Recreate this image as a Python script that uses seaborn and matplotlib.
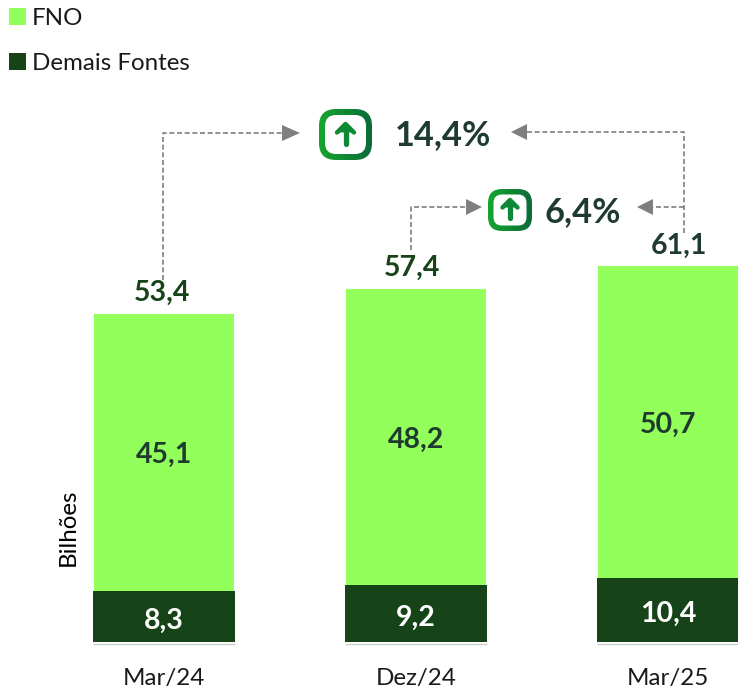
#!/usr/bin/env python3
"""Stacked bars FNO / Demais Fontes, with growth callouts on top."""

import numpy as np
import pandas as pd
import matplotlib.pyplot as plt
from matplotlib.patches import FancyBboxPatch, Polygon
from matplotlib.colors import LinearSegmentedColormap
import seaborn as sns

sns.set_theme(style="white")
plt.switch_backend('Agg')
plt.rcParams['font.family'] = ['Lato', 'DejaVu Sans']

# Data
PERIODS = ['Mar/24', 'Dez/24', 'Mar/25']
FNO = [45.1, 48.2, 50.7]
DEMAIS = [8.3, 9.2, 10.4]
TOTALS = [53.4, 57.4, 61.1]
FNO_LABELS = ['45,1', '48,2', '50,7']
DEMAIS_LABELS = ['8,3', '9,2', '10,4']
TOTAL_LABELS = ['53,4', '57,4', '61,1']
GROWTH_LABELS = ['14,4%', '6,4%']

LIGHT = '#92FF5A'
DARK = '#164317'
INK = '#1F3B2F'
GREY = '#7F7F7F'

W, H = 738, 692
PX_PER_UNIT = 6.15
BASE_PX = 642
LABEL_SIZE = 20.5
TEXT_SIZE = 17.4

df = pd.DataFrame({'periodo': PERIODS, 'fno': FNO, 'demais': DEMAIS})

fig = plt.figure(figsize=(W / 100, H / 100), dpi=100)
ax = fig.add_axes([0, (H - BASE_PX) / H, 1, BASE_PX / H])

sns.barplot(data=df, x='periodo', y='fno', bottom=df['demais'], color=LIGHT,
            saturation=1, width=0.556, label='FNO', linewidth=0, ax=ax)
sns.barplot(data=df, x='periodo', y='demais', color=DARK,
            saturation=1, width=0.563, label='Demais Fontes', linewidth=0, ax=ax)

# bar centres land on 164 / 416 / 668 px
ax.set_xlim(-164 / 252, (W - 164) / 252)
ax.set_ylim(0, BASE_PX / PX_PER_UNIT)
ax.set_xlabel('')
ax.set_ylabel('Bilhões', fontsize=TEXT_SIZE, color='black')
ax.yaxis.set_label_coords(79 / W, 0.178)
ax.set_yticks([])
ax.tick_params(axis='x', length=0, pad=19, labelsize=TEXT_SIZE, labelcolor='#1A1A1A')
sns.despine(ax=ax, left=True, bottom=True)

# thin rule under each bar
for i in range(len(PERIODS)):
    ax.hlines(-0.3, i - 0.283, i + 0.283, color='#C9D3CB', lw=1, clip_on=False)

# Value labels
for i in range(len(PERIODS)):
    ax.annotate(FNO_LABELS[i], (i, DEMAIS[i] + FNO[i] / 2), xytext=(0, -2),
                textcoords='offset points', ha='center', va='center',
                fontsize=LABEL_SIZE, fontweight='bold', color=INK)
    ax.annotate(DEMAIS_LABELS[i], (i, DEMAIS[i] / 2), xytext=(0, -3),
                textcoords='offset points', ha='center', va='center',
                fontsize=LABEL_SIZE, fontweight='bold', color='white')

total_dx = [-2, -4, 11]
total_colors = [DARK, DARK, INK]
for i in range(len(PERIODS)):
    ax.annotate(TOTAL_LABELS[i], (i, TOTALS[i]), xytext=(total_dx[i] * 0.72, 15),
                textcoords='offset points', ha='center', va='center',
                fontsize=LABEL_SIZE, fontweight='bold', color=total_colors[i])

leg = ax.legend(loc='upper left', bbox_to_anchor=(4 / W, 0.995), frameon=False,
                handlelength=0.7, handleheight=0.7, handletextpad=0.25,
                labelspacing=0.98, fontsize=TEXT_SIZE, borderaxespad=0, borderpad=0.2)
for text in leg.get_texts():
    text.set_color('#1A1A1A')

# Overlay in pixel space for the callouts
ov = fig.add_axes([0, 0, 1, 1], zorder=5)
ov.set_xlim(0, W)
ov.set_ylim(H, 0)
ov.axis('off')
ov.patch.set_alpha(0)


def dashed_path(xs, ys):
    ov.plot(xs, ys, color=GREY, lw=1.2, ls=(0, (3, 1.6)))


def head(base_x, tip_x, y, half=8):
    ov.add_patch(Polygon([(base_x, y - half), (base_x, y + half), (tip_x, y)],
                         closed=True, color=GREY, lw=0))


dashed_path([163, 163, 283], [280, 133, 133])
head(282, 300, 133)
dashed_path([684, 684, 527], [233, 132, 132])
head(527, 511, 132)
dashed_path([411, 411, 466], [250, 207, 207])
head(466, 482, 207)
dashed_path([684, 653], [207, 207])
head(653, 637, 207)

cmap = LinearSegmentedColormap.from_list('icon', ['#17A52F', '#0B6B3A'])


def icon(x0, y0, x1, y1, ring, radius, head_half, stem_top, stem_bottom):
    outer = FancyBboxPatch((x0 + radius, y0 + radius), x1 - x0 - 2 * radius,
                           y1 - y0 - 2 * radius,
                           boxstyle=f'round,pad={radius},rounding_size={radius}',
                           fc='none', ec='none')
    ov.add_patch(outer)
    grad = np.linspace(0, 1, 64).reshape(1, -1)
    im = ov.imshow(grad, extent=(x0, x1, y1, y0), cmap=cmap, aspect='auto', zorder=2)
    im.set_clip_path(outer)
    r2 = radius - ring
    ov.add_patch(FancyBboxPatch((x0 + ring + r2, y0 + ring + r2),
                                x1 - x0 - 2 * ring - 2 * r2, y1 - y0 - 2 * ring - 2 * r2,
                                boxstyle=f'round,pad={r2},rounding_size={r2}',
                                fc='white', ec='none', zorder=3))
    cx = (x0 + x1) / 2
    ov.plot([cx, cx], [stem_bottom, stem_top + 6], color='#0F8A34', lw=3.8,
            solid_capstyle='round', zorder=4)
    ov.plot([cx - head_half, cx, cx + head_half],
            [stem_top + head_half, stem_top, stem_top + head_half],
            color='#0F8A34', lw=3.2, solid_capstyle='round', zorder=4)
    ov.add_patch(Polygon([(cx - head_half, stem_top + head_half),
                          (cx, stem_top), (cx + head_half, stem_top + head_half)],
                         closed=True, color='#0F8A34', lw=0, zorder=4))
    ov.set_xlim(0, W)
    ov.set_ylim(H, 0)


icon(319, 109, 372, 160, 6, 17, 8.5, 124, 144)
icon(488, 189, 532, 231, 5.5, 14, 7.5, 200, 218)

ov.text(443, 135, GROWTH_LABELS[0], ha='center', va='center',
        fontsize=24.8, fontweight='bold', color=INK)
ov.text(583, 212, GROWTH_LABELS[1], ha='center', va='center',
        fontsize=24.8, fontweight='bold', color=INK)

fig.savefig('out.png', dpi=100)
plt.close(fig)
